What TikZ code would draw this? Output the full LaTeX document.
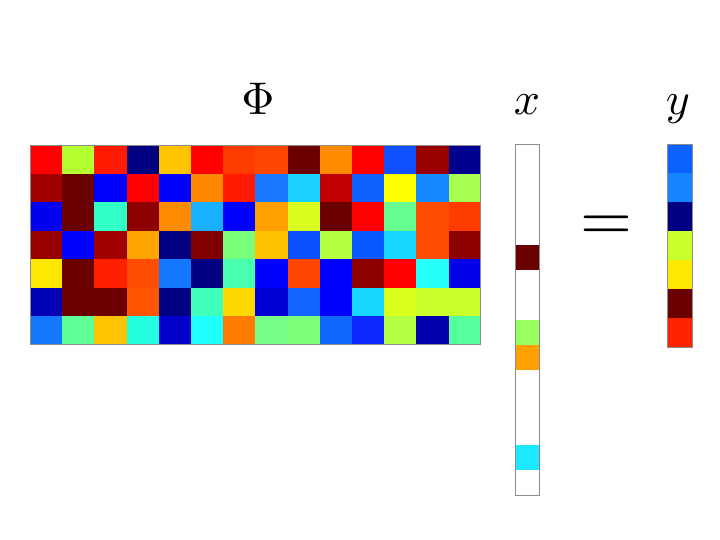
\documentclass[tikz,border=0pt]{standalone}
\begin{document}
\begin{tikzpicture}[x=1bp,y=-1bp,
  frame/.style={draw=black!45,line width=0.8bp},
  lbl/.style={scale=4.6,inner sep=0pt,anchor=base}]
\useasboundingbox (0,0) rectangle (720,540);
% Phi matrix: 7 rows x 14 cols
\def\cw{32.2}\def\ch{28.4}
\foreach \row [count=\r from 0] in {
 {FF0000,B4FF30,FF1A00,000080,FFC400,FF0000,FF3C00,FF4600,6A0000,FF8C00,FF0000,0F50FF,9A0000,000090},
 {A00000,6A0000,0000FF,FF0000,0000FF,FF8800,FF1A00,1878FF,1AD0FF,C00000,1060FF,FFFF00,1488FF,A6FF50},
 {0000F0,6A0000,30FFC8,8C0000,FF8C00,18B0FF,0000FF,FFA000,D8FF20,6A0000,FF0000,66FF90,FF4C00,FF3C00},
 {980000,0000FF,A00000,FFA400,000080,800000,7AFF7A,FFC000,0A50FF,B4FF40,0A58FF,18D8FF,FF4C00,8C0000},
 {FFE800,6A0000,FF2000,FF4C00,1478FF,000080,48FFB0,0000FF,FF4600,0000FF,8C0000,FF0000,24FFF8,0000E8},
 {0000B4,6A0000,6A0000,FF5400,000080,40FFB8,FFD800,0000D4,1066FF,0000FF,18D8FF,DCFF1C,C8FF2C,C8FF2C},
 {1478FF,60FF98,FFC400,24FFE0,0000C8,20FFFF,FF7C00,76FF88,80FF7C,1068FF,0C28FF,B4FF44,0000AA,54FF9C}}{
  \foreach \c [count=\k from 0] in \row {
    \definecolor{cc}{HTML}{\c}
    \fill[cc] ({30+\k*\cw},{145.5+\r*\ch}) rectangle ++(\cw+0.3,\ch+0.3);
  }
}
\draw[frame] (30,145.5) rectangle (480.8,344.3);
% x vector: 14 entries
\def\xh{25.07}
\foreach \i/\c in {4/6A0000,7/98FF60,8/FFA000,12/1CE8FF}{
  \definecolor{cc}{HTML}{\c}
  \fill[cc] (515,{144.5+\i*\xh}) rectangle (539,{144.5+(\i+1)*\xh});
}
\draw[frame] (515,144.5) rectangle (539,495.5);
% y vector: 7 entries
\def\yh{28.93}
\foreach \c [count=\i from 0] in {0C62FF,1484FF,000080,C8FF2C,FFE800,6A0000,FF2400}{
  \definecolor{cc}{HTML}{\c}
  \fill[cc] (667.5,{144.5+\i*\yh}) rectangle (692,{144.5+(\i+1)*\yh+0.3});
}
\draw[frame] (667.5,144.5) rectangle (692,347);
% labels
\node[lbl] (phi) at (258,115) {$\Phi$};
\node[lbl] (xl) at (527,114.5) {$x$};
\node[lbl] (yl) at (678,114.5) {$y$};
\node[scale=6.7,inner sep=0pt,anchor=base] (eq) at (606,240.3) {$=$};
\end{tikzpicture}
\end{document}
